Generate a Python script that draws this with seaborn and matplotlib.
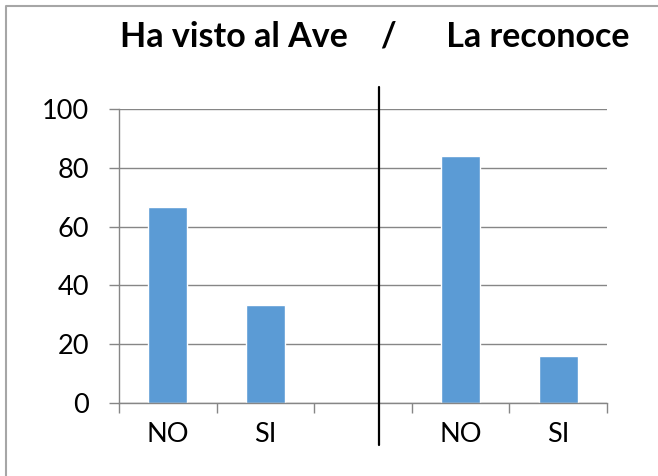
import pandas as pd
import matplotlib.pyplot as plt
import seaborn as sns
from matplotlib.lines import Line2D

# categories (third one is an empty gap slot)
categories = ["NO_a", "SI_a", "gap", "NO_b", "SI_b"]
tick_labels = ["NO", "SI", "", "NO", "SI"]
values = [66.7, 33.3, None, 84.0, 16.0]

df = pd.DataFrame({"cat": categories, "pct": values}).dropna()

sns.set_theme(style="white")
plt.rcParams['font.family'] = ['Lato', 'DejaVu Sans']

fig = plt.figure(figsize=(6.58, 4.76), dpi=100)
ax = fig.add_axes([119 / 658, 1 - 403 / 476, 488 / 658, 294 / 476])

sns.barplot(data=df, x="cat", y="pct", order=categories, color="#5B9BD5",
            saturation=1, width=0.4, ax=ax)

ax.set_xlim(-0.5, len(categories) - 0.5)
ax.set_ylim(0, 100)
ax.set_yticks([0, 20, 40, 60, 80, 100])
ax.yaxis.grid(True, color="#868686", linewidth=1)
ax.set_axisbelow(True)
ax.set_xticks(range(len(categories)))
ax.set_xticklabels(tick_labels)
ax.set_xticks([i - 0.5 for i in range(len(categories) + 1)], minor=True)
ax.tick_params(axis="x", which="major", length=0, pad=14, labelsize=19.5, colors="black")
ax.tick_params(axis="x", which="minor", length=7.5, width=1, color="#868686", bottom=True)
ax.tick_params(axis="y", length=7.5, width=1, color="#868686", left=True, pad=14,
               labelsize=19.5, labelcolor="black")
ax.set_xlabel("")
ax.set_ylabel("")

for s in ["top", "right"]:
    ax.spines[s].set_visible(False)
for s in ["left", "bottom"]:
    ax.spines[s].set_color("#868686")
    ax.spines[s].set_linewidth(1)

# separator line between the two questions
fig.add_artist(Line2D([379 / 658, 379 / 658], [1 - 87 / 476, 1 - 445 / 476],
                      color="black", linewidth=1.6))
# chart frame (top and left edges only visible)
fig.add_artist(Line2D([6 / 658, 6 / 658, 1], [0, 1 - 6 / 476, 1 - 6 / 476],
                      color="#A6A6A6", linewidth=1.5))

fig.text(375 / 658, 1 - 36 / 476, "Ha visto al Ave    /      La reconoce",
         ha="center", va="center", fontsize=24.5, fontweight="bold", color="black")

plt.savefig("out.png", dpi=100)
plt.close()
